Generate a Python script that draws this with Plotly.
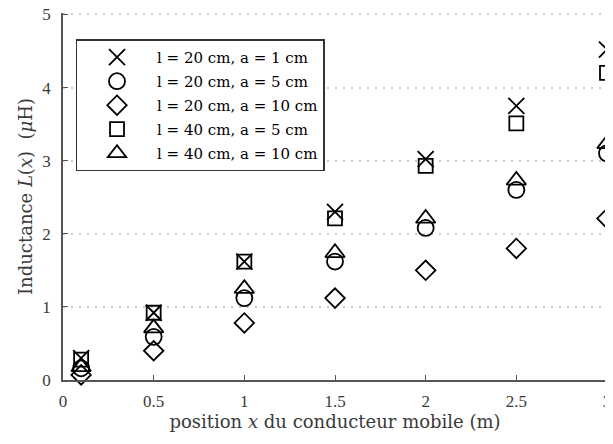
import plotly.graph_objects as go

x_pos = [0.1, 0.5, 1.0, 1.5, 2.0, 2.5, 3.0]

L_20_1 = [0.30, 0.92, 1.62, 2.30, 3.02, 3.75, 4.52]
L_20_5 = [0.16, 0.59, 1.12, 1.62, 2.08, 2.60, 3.10]
L_20_10 = [0.07, 0.40, 0.78, 1.12, 1.50, 1.80, 2.21]
L_40_5 = [0.28, 0.92, 1.62, 2.21, 2.93, 3.51, 4.20]
L_40_10 = [0.18, 0.71, 1.25, 1.74, 2.21, 2.73, 3.23]

names = [
    "l = 20 cm, a = 1 cm",
    "l = 20 cm, a = 5 cm",
    "l = 20 cm, a = 10 cm",
    "l = 40 cm, a = 5 cm",
    "l = 40 cm, a = 10 cm",
]
series = [L_20_1, L_20_5, L_20_10, L_40_5, L_40_10]
symbols = ["x-thin-open", "circle-open", "diamond-open", "square-open", "triangle-up-open"]
sizes = [16, 16, 15, 14, 17]

TICKFONT = "Liberation Serif"
TEXTFONT = "DejaVu Serif"
AX = "#555555"
TXT = "#3a3a3a"

fig = go.Figure()
for i, (name, ys, sym, sz) in enumerate(zip(names, series, symbols, sizes)):
    fig.add_trace(go.Scatter(
        x=x_pos, y=ys, mode="markers", name=name, cliponaxis=False,
        legendgroup=f"g{i}",
        marker=dict(symbol=sym, size=sz, color="black",
                    line=dict(color="black", width=1.8)),
    ))

# the page body has an 8px margin: the figure is sized to end at the window edge
fig.update_layout(
    width=605, height=436,
    margin=dict(l=55, r=6, t=5, b=64, autoexpand=False),
    paper_bgcolor="white", plot_bgcolor="white",
    font=dict(family=TEXTFONT, size=16, color=TXT),
    showlegend=True,
    legend=dict(
        x=0.023, y=0.928, xanchor="left", yanchor="top",
        bgcolor="white", bordercolor="#333333", borderwidth=1.5,
        font=dict(family=TEXTFONT, size=15, color="black"),
        itemwidth=70, tracegroupgap=1.5,
    ),
)

fig.update_xaxes(
    range=[0, 3], tickvals=[0, 0.5, 1, 1.5, 2, 2.5, 3],
    ticktext=["0", "0.5", "1", "1.5", "2", "2.5", "3"],
    automargin=False,
    showline=True, linecolor=AX, linewidth=1.5, mirror=False,
    ticks="inside", ticklen=5, tickcolor=AX, tickwidth=1.2,
    showgrid=False, zeroline=False, ticklabeloverflow="allow",
    ticklabelstandoff=5,
    tickfont=dict(family=TICKFONT, size=17, color=TXT),
    title=dict(text="position <i>x</i> du conducteur mobile (m)",
               font=dict(family=TEXTFONT, size=18, color=TXT), standoff=2),
)
fig.update_yaxes(
    range=[0, 5.02], tickvals=[0, 1, 2, 3, 4, 5],
    automargin=False,
    showline=True, linecolor=AX, linewidth=1.5, mirror=False,
    ticks="inside", ticklen=5, tickcolor=AX, tickwidth=1.2,
    showgrid=True, gridcolor="#cccccc", griddash="2px,6px", gridwidth=1.5,
    zeroline=False, ticklabelstandoff=7, ticklabeloverflow="allow",
    tickfont=dict(family=TICKFONT, size=17, color=TXT),
    title=dict(text="Inductance <i>L</i>(<i>x</i>)  (<i>μ</i>H)",
               font=dict(family=TEXTFONT, size=18, color=TXT), standoff=5),
)

fig.write_html("out.html")
